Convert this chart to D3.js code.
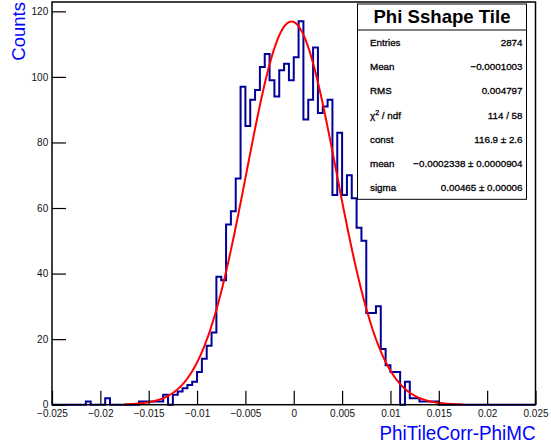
<!DOCTYPE html>
<html lang="en">
<head>
<meta charset="UTF-8">
<title>Phi Sshape Tile</title>
<script src="https://d3js.org/d3.v7.min.js"></script>
<style>
  body { margin: 0; background: #fff; }
  svg text { font-family: "Liberation Sans", Arial, Helvetica, sans-serif; }
</style>
</head>
<body>
<svg id="graph" width="551" height="444"></svg>
<script>
// 100 bins between -0.025 and 0.025
var xMin = -0.025, xMax = 0.025
var binCounts = [
  0, 0, 0, 0, 0, 0, 0, 1, 0, 0,
  0, 2, 0, 0, 0, 0, 0, 0, 1, 1,
  1, 1, 1, 3, 0, 3, 4, 5, 6, 7,
  10, 14, 18, 22, 39, 38, 55, 59, 69, 97,
  85, 93, 96, 103, 107, 99, 94, 102, 104, 99,
  106, 117, 87, 93, 109, 89, 91, 93, 64, 83,
  64, 70, 63, 54, 50, 28, 28, 30, 17, 12,
  10, 10, 0, 7, 2, 2, 1, 1, 1, 1,
  0, 0, 0, 0, 0, 0, 0, 0, 0, 0,
  0, 0, 0, 0, 0, 0, 0, 0, 0, 0
]
var yMax = 122.85

var xTicks = [-0.025, -0.02, -0.015, -0.01, -0.005, 0, 0.005, 0.01, 0.015, 0.02, 0.025]
var xTickLabels = ["\u22120.025", "\u22120.02", "\u22120.015", "\u22120.01", "\u22120.005", "0",
                   "0.005", "0.01", "0.015", "0.02", "0.025"]
var yTicks = [0, 20, 40, 60, 80, 100, 120]
var yTickLabels = ["0", "20", "40", "60", "80", "100", "120"]

// gaus fit from the stats box
var fitConst = 116.9, fitMean = -0.0002338, fitSigma = 0.00465
var fitRange = [-0.0175, 0.0175]

var statTitle = "Phi Sshape Tile"
var statNames = ["Entries", "Mean", "RMS", "chi2", "const", "mean", "sigma"]
var statValues = ["2874", "\u22120.0001003", "0.004797", "114 / 58", "116.9 \u00b1 2.6",
                  "\u22120.0002338 \u00b1 0.0000904", "0.00465 \u00b1 0.00006"]

var svg = d3.select("#graph")
var frame = {left: 52, right: 535.5, top: 2, bottom: 404.7}

var x = d3.scaleLinear().domain([xMin, xMax]).range([frame.left, frame.right])
var y = d3.scaleLinear().domain([0, yMax]).range([frame.bottom, frame.top])

svg.append("rect").attr("width", 551).attr("height", 444).attr("fill", "#fff")

// histogram outline
var bw = (xMax - xMin) / binCounts.length
var steps = []
binCounts.forEach(function (c, i) {
  steps.push([xMin + i * bw, c])
  steps.push([xMin + (i + 1) * bw, c])
})
svg.append("path")
  .attr("d", d3.line().x(d => x(d[0])).y(d => y(d[1]))(steps))
  .attr("fill", "none")
  .attr("stroke", "#000099")
  .attr("stroke-width", 2)

// fit curve
var fitPts = d3.range(0, 301).map(function (k) {
  var v = fitRange[0] + (fitRange[1] - fitRange[0]) * k / 300
  return [v, fitConst * Math.exp(-0.5 * Math.pow((v - fitMean) / fitSigma, 2))]
})
svg.append("path")
  .attr("d", d3.line().x(d => x(d[0])).y(d => y(d[1]))(fitPts))
  .attr("fill", "none")
  .attr("stroke", "#ff0000")
  .attr("stroke-width", 2)

// axes, ticks drawn inside the frame
var xMinor = d3.range(-25, 26).map(d => d / 1000)
var gx = svg.append("g").attr("transform", `translate(0,${frame.bottom})`)
gx.call(d3.axisBottom(x).tickValues(xMinor).tickSize(-7).tickFormat(""))
gx.call(d3.axisBottom(x).tickValues(xTicks).tickSize(-14).tickPadding(5.3)
  .tickFormat((d, i) => xTickLabels[i]))

var yMinor = d3.range(0, 121, 5)
var gy = svg.append("g").attr("transform", `translate(${frame.left},0)`)
gy.call(d3.axisLeft(y).tickValues(yMinor).tickSize(-7).tickFormat(""))
gy.call(d3.axisLeft(y).tickValues(yTicks).tickSize(-14).tickPadding(3.8)
  .tickFormat((d, i) => yTickLabels[i]))

svg.selectAll(".domain").remove()
svg.selectAll(".tick line").attr("stroke", "#000").attr("stroke-width", 1.2)
svg.selectAll(".tick text").attr("font-size", 10).attr("fill", "#111")
  .style("font-family", "'Liberation Sans', Arial, sans-serif")

svg.append("rect")
  .attr("x", frame.left).attr("y", frame.top)
  .attr("width", frame.right - frame.left).attr("height", frame.bottom - frame.top)
  .attr("fill", "none").attr("stroke", "#000").attr("stroke-width", 1.5)

// axis titles
svg.append("text")
  .attr("x", frame.right).attr("y", 440)
  .attr("text-anchor", "end")
  .attr("font-size", 20)
  .attr("textLength", 156).attr("lengthAdjust", "spacingAndGlyphs")
  .attr("fill", "#0000ff")
  .text("PhiTileCorr-PhiMC")

svg.append("text")
  .attr("transform", "translate(25,2) rotate(-90)")
  .attr("text-anchor", "end")
  .attr("font-size", 18.5)
  .attr("fill", "#0000ff")
  .text("Counts")

// stats box
var box = {left: 357.5, right: 526.5, top: 4, mid: 30, bottom: 199.3}
svg.append("rect")
  .attr("x", box.left).attr("y", box.top)
  .attr("width", box.right - box.left).attr("height", box.bottom - box.top)
  .attr("fill", "#fff").attr("stroke", "#000").attr("stroke-width", 1)
svg.append("line")
  .attr("x1", box.left).attr("x2", box.right)
  .attr("y1", box.mid).attr("y2", box.mid)
  .attr("stroke", "#000").attr("stroke-width", 1)

svg.append("text")
  .attr("x", (box.left + box.right) / 2).attr("y", 22.7)
  .attr("text-anchor", "middle")
  .attr("font-size", 18.6).attr("font-weight", "bold")
  .text(statTitle)

var rows = svg.append("g").attr("font-size", 9.8)
  .attr("stroke", "#000").attr("stroke-width", 0.3)
statNames.forEach(function (name, i) {
  var by = 46.2 + i * 24.1
  var t = rows.append("text").attr("x", 370).attr("y", by)
  if (name === "chi2") {
    t.append("tspan").text("\u03c7")
    t.append("tspan").attr("dy", -4).attr("font-size", 7).text("2")
    t.append("tspan").attr("dy", 4).text(" / ndf")
  } else {
    t.text(name)
  }
  rows.append("text").attr("x", 522.5).attr("y", by)
    .attr("text-anchor", "end")
    .text(statValues[i])
})
</script>
</body>
</html>
